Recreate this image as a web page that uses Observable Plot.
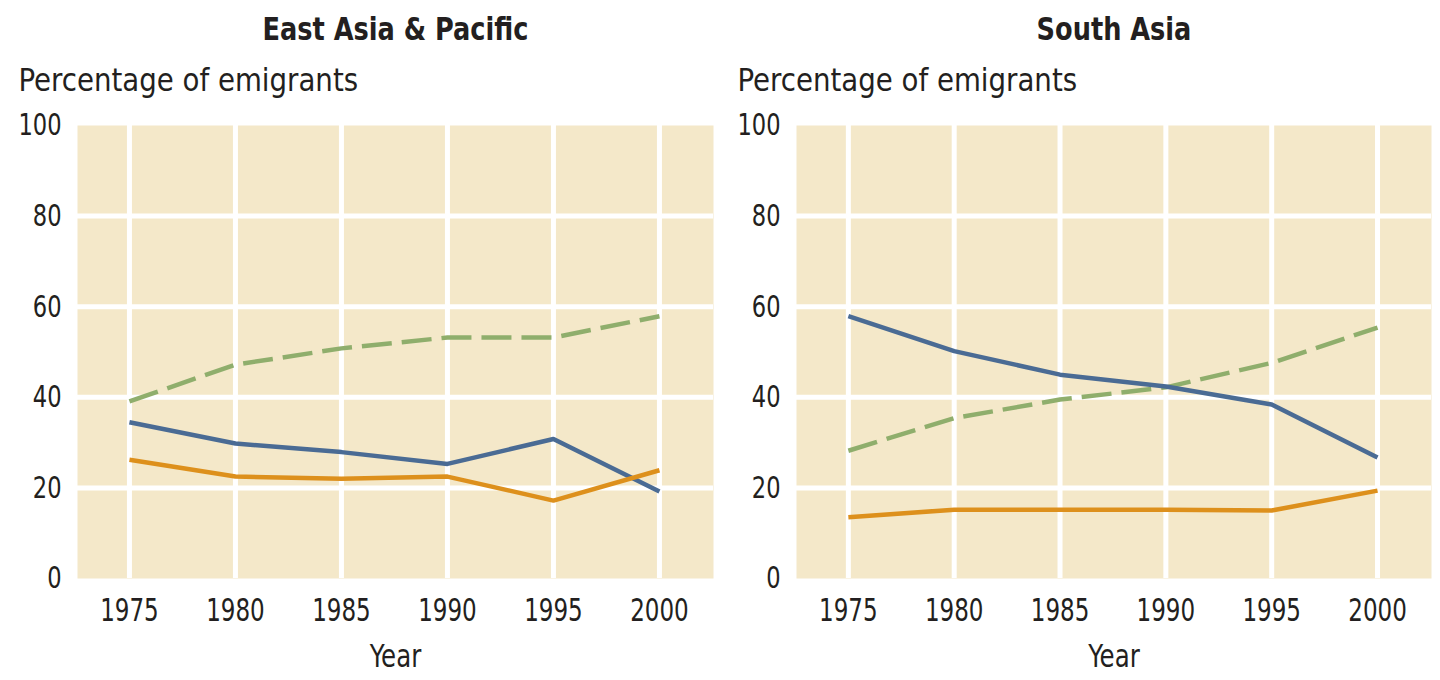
<!DOCTYPE html>
<html>
<head>
<meta charset="utf-8">
<script src="https://cdn.jsdelivr.net/npm/d3@7"></script>
<script src="https://cdn.jsdelivr.net/npm/@observablehq/plot@0.6"></script>
<style>
  html, body { margin: 0; padding: 0; background: #ffffff; }
  #wrap { display: flex; width: 1440px; height: 680px; }
</style>
</head>
<body>
<div id="wrap"></div>
<script>
// ---- Data ----
const years = [1975, 1980, 1985, 1990, 1995, 2000];
const yTicks = [0, 20, 40, 60, 80, 100];
const gridTicks = [20, 40, 60, 80];
const panelTitles = ["East Asia & Pacific", "South Asia"];
const seriesNames = ["High-income OECD", "Developing countries", "High-income non-OECD"];

// East Asia & Pacific
const eapOECD    = [39.1, 47.2, 50.8, 53.2, 53.2, 57.9];
const eapDev     = [34.5, 29.8, 27.9, 25.3, 30.8, 19.2];
const eapNonOECD = [26.2, 22.5, 22.0, 22.5, 17.2, 23.9];

// South Asia
const sasOECD    = [28.2, 35.4, 39.5, 42.2, 47.6, 55.4];
const sasDev     = [57.9, 50.2, 45.0, 42.4, 38.4, 26.7];
const sasNonOECD = [13.5, 15.2, 15.2, 15.2, 15.0, 19.4];

const yLabel = "Percentage of emigrants";
const xLabel = "Year";

// ---- Styling ----
const FONT = "'Liberation Sans Narrow', 'DejaVu Sans Condensed', 'Roboto', sans-serif";
const colors = {"High-income OECD": "#8fae6c", "Developing countries": "#4a6b94", "High-income non-OECD": "#dd901c"};
const dashes = {"High-income OECD": "30,10", "Developing countries": null, "High-income non-OECD": null};
const BG = "#f4e8c9";
const TEXT = "#231f20";

function toRows(a, b, c) {
  const rows = [];
  [a, b, c].forEach((vals, i) => {
    vals.forEach((v, j) => rows.push({series: seriesNames[i], year: years[j], value: v}));
  });
  return rows;
}

const panels = [
  {title: panelTitles[0], rows: toRows(eapOECD, eapDev, eapNonOECD), ml: 77, mr: 7},
  {title: panelTitles[1], rows: toRows(sasOECD, sasDev, sasNonOECD), ml: 76, mr: 9}
];

// horizontal squeeze to emulate a condensed typeface
const tickSqueeze = {"x-axis tick label": 0.80, "y-axis tick label": 0.81};
const textSqueeze = new Map([[panelTitles[0], 0.89], [panelTitles[1], 0.89], [yLabel, 0.96], [xLabel, 0.85]]);

const wrap = document.getElementById("wrap");
for (const p of panels) {
  const lineMarks = seriesNames.map(s => Plot.line(p.rows.filter(r => r.series === s), {
    x: "year", y: "value",
    stroke: colors[s], strokeWidth: 4.5,
    strokeDasharray: dashes[s] || undefined,
    strokeLinejoin: "round", strokeLinecap: "butt"
  }));
  const chart = Plot.plot({
    width: 720, height: 680,
    marginLeft: p.ml, marginRight: p.mr, marginTop: 125, marginBottom: 102,
    style: {fontFamily: FONT, fontSize: "31px", color: TEXT, background: "transparent", overflow: "visible"},
    x: {domain: [1972.55, 2002.55], label: null},
    y: {domain: [0, 100], label: null},
    marks: [
      Plot.frame({fill: BG, stroke: null}),
      Plot.gridX(years, {stroke: "white", strokeOpacity: 1, strokeWidth: 5}),
      Plot.gridY(gridTicks, {stroke: "white", strokeOpacity: 1, strokeWidth: 5}),
      ...lineMarks,
      Plot.axisX(years, {tickSize: 0, tickPadding: 20, tickFormat: d => String(d), fontSize: 32, fill: TEXT}),
      Plot.axisY(yTicks, {tickSize: 0, tickPadding: 16, fontSize: 31, fill: TEXT}),
      Plot.text([p.title], {frameAnchor: "top", lineAnchor: "middle", dy: -95.3, fontWeight: "bold", fontSize: 32, fill: TEXT}),
      Plot.text([yLabel], {frameAnchor: "top-left", lineAnchor: "middle", textAnchor: "start", dx: -59, dy: -44.5, fontSize: 32, fill: TEXT}),
      Plot.text([xLabel], {frameAnchor: "bottom", lineAnchor: "middle", dy: 78.7, fontSize: 32, fill: TEXT})
    ]
  });
  wrap.appendChild(chart);
  for (const [label, s] of Object.entries(tickSqueeze)) {
    chart.querySelectorAll(`g[aria-label="${label}"] text`).forEach(t => {
      const tr = t.getAttribute("transform") || "";
      t.setAttribute("transform", `${tr} scale(${s},1)`);
    });
  }
  chart.querySelectorAll("text").forEach(t => {
    const s = textSqueeze.get(t.textContent);
    if (s) {
      const tr = t.getAttribute("transform") || "";
      t.setAttribute("transform", `${tr} scale(${s},1)`);
    }
  });
}
</script>
</body>
</html>
